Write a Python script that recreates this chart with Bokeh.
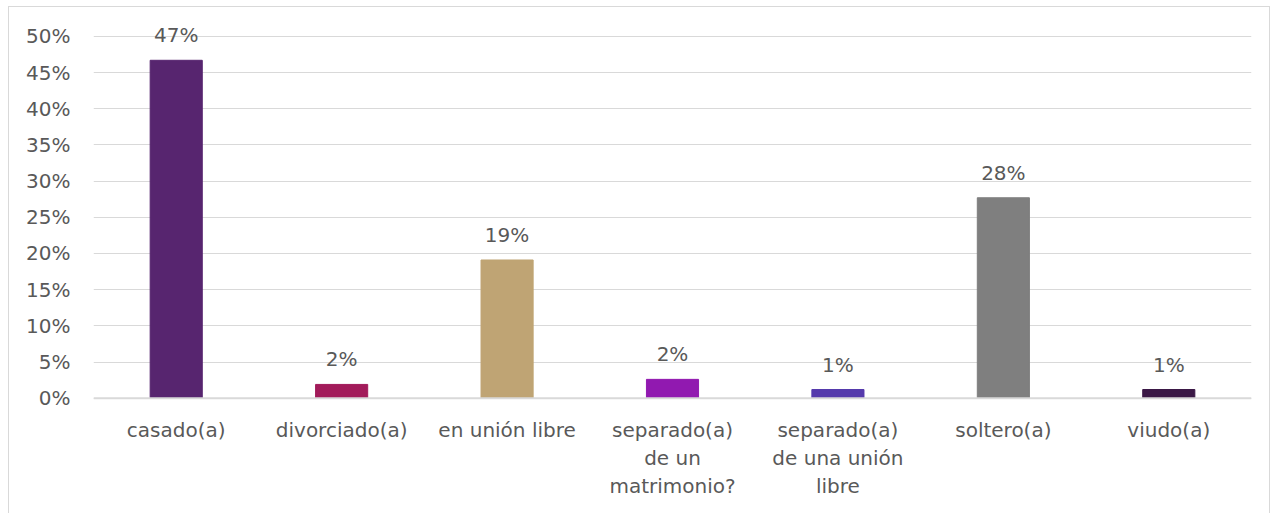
from bokeh.plotting import figure
from bokeh.models import ColumnDataSource, FixedTicker, NumeralTickFormatter, Span
from bokeh.core.properties import value
from bokeh.embed import file_html
from bokeh.resources import INLINE

categories = ["casado(a)", "divorciado(a)", "en unión libre",
              "separado(a) de un matrimonio?", "separado(a) de una unión libre",
              "soltero(a)", "viudo(a)"]
category_lines = [["casado(a)"], ["divorciado(a)"], ["en unión libre"],
                  ["separado(a)", "de un", "matrimonio?"],
                  ["separado(a)", "de una unión", "libre"],
                  ["soltero(a)"], ["viudo(a)"]]
values = [0.467, 0.019, 0.191, 0.026, 0.012, 0.277, 0.012]
labels = ["47%", "2%", "19%", "2%", "1%", "28%", "1%"]
colors = ["#57256f", "#a21b5a", "#bfa474", "#9119b0", "#553aac", "#7f7f7f", "#3b1846"]
y_ticks = [0, 0.05, 0.10, 0.15, 0.20, 0.25, 0.30, 0.35, 0.40, 0.45, 0.50]

FONT = "DejaVu Sans"
TXT = "#595959"
FS = "20px"

src = ColumnDataSource(dict(cat=categories, val=values, lab=labels, col=colors))

# category label rows (one per text line)
lx, ly, lt, loff = [], [], [], []
for cat, lines in zip(categories, category_lines):
    for i, line in enumerate(lines):
        lx.append(cat)
        ly.append(0)
        lt.append(line)
        loff.append(20 + i * 28)
lsrc = ColumnDataSource(dict(x=lx, y=ly, t=lt, off=loff))

p = figure(x_range=categories, y_range=(-0.158, 0.522), width=1262, height=507,
           output_backend="svg", toolbar_location=None,
           min_border_left=84, min_border_right=20, min_border_top=13, min_border_bottom=2)
p.margin = (6, 0, 0, 8)
p.styles = {"border": "1px solid #d9d9d9", "border-bottom": "none"}
p.outline_line_color = None
p.background_fill_color = "white"

p.vbar(x="cat", top="val", width=0.315, color="col", source=src)
p.text(x="cat", y="val", text="lab", source=src, text_align="center",
       text_baseline="alphabetic", y_offset=-25,
       text_font=value(FONT), text_font_size=FS, text_color=TXT)
p.text(x="x", y="y", text="t", y_offset="off", source=lsrc, text_align="center",
       text_baseline="top", text_font=value(FONT), text_font_size=FS, text_color=TXT)

p.add_layout(Span(location=0, dimension="width", line_color="#d9d9d9", line_width=2))

p.xaxis.visible = False
p.yaxis.ticker = FixedTicker(ticks=y_ticks)
p.yaxis.formatter = NumeralTickFormatter(format="0%")
p.yaxis.axis_line_color = None
p.yaxis.major_tick_line_color = None
p.yaxis.minor_tick_line_color = None
p.yaxis.major_tick_out = 0
p.yaxis.major_label_standoff = 23
p.yaxis.major_label_text_font = FONT
p.yaxis.major_label_text_font_size = FS
p.yaxis.major_label_text_color = TXT

p.xgrid.grid_line_color = None
p.ygrid.grid_line_color = "#d9d9d9"
p.ygrid.grid_line_width = 1

open("out.html", "w").write(file_html(p, INLINE))
